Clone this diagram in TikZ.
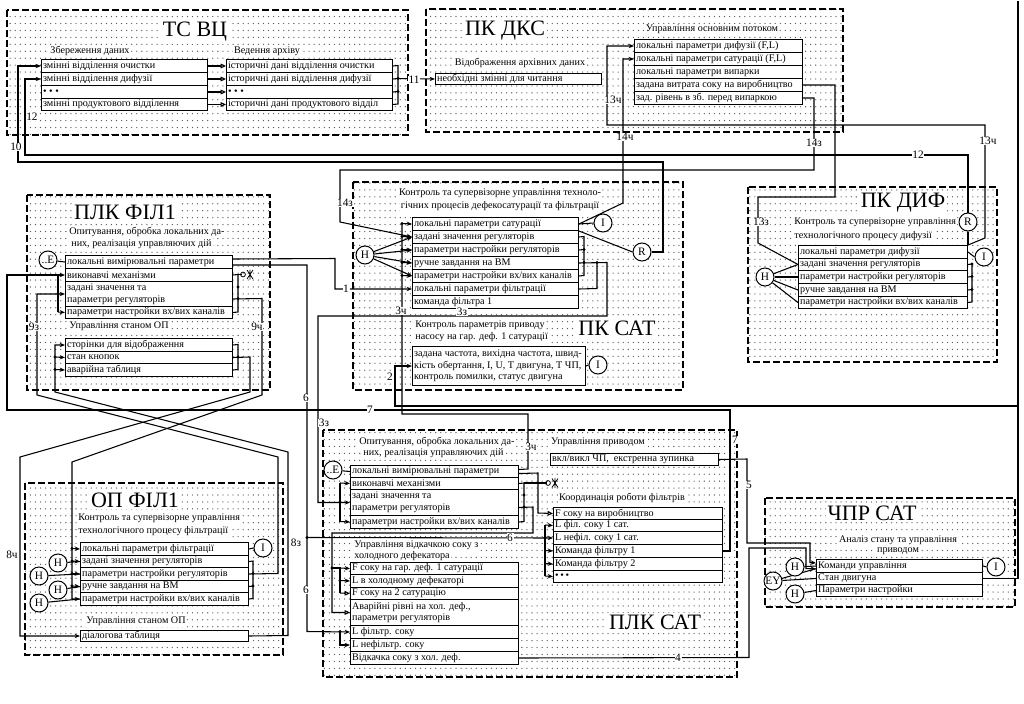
\documentclass[tikz,border=0pt]{standalone}
\usepackage{fontspec}
\setmainfont{Liberation Serif}
\usetikzlibrary{arrows.meta,patterns.meta}
\pgfdeclarelayer{bg}
\pgfdeclarelayer{wires}
\pgfsetlayers{bg,wires,main}
\newcommand\rowfont{\fontsize{7.6}{8.7}\selectfont}
\tikzdeclarepattern{
  name=sdots,
  type=colored,
  bounding box={(-0.6pt,-0.6pt) and (0.6pt,0.6pt)},
  tile size={(3.8pt,5.2pt)},
  code={\fill[black!65] (0pt,0pt) circle [radius=0.5pt];}
}
\newcommand\rw[6]{%
  \pgfmathsetmacro\rwW{(#4-#2)*0.75}%
  \pgfmathsetmacro\rwH{(#5-#3)*0.75}%
  \node[rowst, minimum width=\rwW pt, minimum height=\rwH pt, anchor=north west] (#1) at (#2,#3) {};%
  \node[rowtx, anchor=west] (#1t) at (#1.west) {#6};}
\newcommand\jd[2]{\fill (#1,#2) circle (1.2pt);}
\newcommand\actsym[2]{\draw[line width=0.6pt] (#1,#2) circle (1.8pt);
  \draw[line width=0.6pt] (#1+4,#2-4.5) -- (#1+10,#2+4.5) (#1+4,#2+4.5) -- (#1+10,#2-4.5) (#1+7,#2-5) -- (#1+7,#2+5);}
\begin{document}
\begin{tikzpicture}[x=0.75pt,y=-0.75pt,
  grp/.style={draw, line width=1pt, dash pattern=on 5pt off 2.5pt, pattern=sdots},
  rowst/.style={draw, fill=white, line width=0.75pt, inner sep=0pt},
  rowtx/.style={font=\rowfont, inner xsep=1.4pt, inner ysep=0pt, align=left},
  ttl/.style={font=\fontsize{16.5}{16.5}\selectfont, fill=white, inner sep=1.5pt},
  txt/.style={font=\rowfont, fill=white, inner sep=0.8pt},
  num/.style={font=\fontsize{8.5}{9}\selectfont, fill=white, inner sep=0.5pt},
  circ/.style={draw, circle, fill=white, line width=0.75pt, minimum size=13.5pt, inner sep=0pt, font=\fontsize{8.5}{9}\selectfont},
  ln/.style={line width=0.8pt},
  ar/.style={line width=0.8pt, -{Stealth[length=4pt,width=3.2pt]}},
  oar/.style={line width=0.8pt, -{Triangle[open,length=4pt,width=3.5pt]}}]
\useasboundingbox (0,0) rectangle (1024,703);
\begin{pgfonlayer}{bg}
\fill[white] (0,0) rectangle (1024,703);
\path[grp] (7,10) rectangle (408,135);
\path[grp] (426,9) rectangle (843,132);
\path[grp] (27,195) rectangle (270,390);
\path[grp] (353,182) rectangle (683,390);
\path[grp] (748,187) rectangle (997,362);
\path[grp] (25,483) rectangle (283,655);
\path[grp] (323,430) rectangle (737,677);
\path[grp] (765,498) rectangle (1015,607);
\end{pgfonlayer}

% ---------- TC VC
\node[ttl] (tTS) at (195,32) {ТС ВЦ};
\node[txt] (tZb) at (90,51) {Збереження даних};
\node[txt] (tVa) at (267,51) {Ведення архіву};
\rw{ts1}{41}{59}{207}{72}{змінні відділення очистки}
\rw{ts2}{41}{72}{207}{85}{змінні відділення дифузії}
\rw{ts3}{41}{85}{207}{98}{\textbullet\ \textbullet\ \textbullet}
\rw{ts4}{41}{98}{207}{110}{змінні продуктового відділення}
\rw{ta1}{226}{59}{392}{72}{історичні дані відділення очистки}
\rw{ta2}{226}{72}{392}{85}{історичні дані відділення дифузії}
\rw{ta3}{226}{85}{392}{98}{\textbullet\ \textbullet\ \textbullet}
\rw{ta4}{226}{98}{392}{110}{історичні дані продуктового відділ}

% ---------- PK DKS
\node[ttl] (tDKS) at (505,31) {ПК ДКС};
\node[txt] (tUo) at (712,29) {Управління основним потоком};
\node[txt] (tVad) at (520,63) {Відображення архівних даних};
\rw{dkn}{435}{73}{601}{84}{необхідні змінні для читання}
\rw{dk1}{634}{39}{802}{52}{локальні параметри дифузії (F,L)}
\rw{dk2}{634}{52}{802}{65}{локальні параметри сатурації (F,L)}
\rw{dk3}{634}{65}{802}{78}{локальні параметри випарки}
\rw{dk4}{634}{78}{802}{91}{задана витрата соку на виробництво}
\rw{dk5}{634}{91}{802}{104}{зад. рівень в зб. перед випаркою}

% ---------- PLK FIL1
\node[ttl] (tPF) at (125,212) {ПЛК ФІЛ1};
\node[txt, anchor=west] (tPF1) at (68,232) {Опитування, обробка локальних да-};
\node[txt, anchor=west] (tPF2) at (70,244) {них, реалізація управляючих дій};
\node[circ] (Ef) at (48,260) {..E};
\rw{pf1}{65}{255}{232}{268}{локальні вимірювальні параметри}
\rw{pf2}{65}{268}{232}{281}{виконавчі механізми}
\rw{pf3}{65}{281}{232}{306}{задані значення та\\параметри регуляторів}
\rw{pf4}{65}{306}{232}{318}{параметри настройки вх/вих каналів}
\node[txt, anchor=west] (tPF3) at (68,326) {Управління станом ОП};
\rw{pg1}{65}{338}{232}{351}{сторінки для відображення}
\rw{pg2}{65}{351}{232}{363}{стан кнопок}
\rw{pg3}{65}{363}{232}{376}{аварійна таблиця}
\actsym{243}{274.5}

% ---------- PK SAT
\node[txt] (tPS1) at (500,193) {Контроль та супервізорне управління техноло-};
\node[txt] (tPS2) at (500,206) {гічних процесів дефекосатурації та фільтрації};
\rw{ps1}{412}{217}{578}{230}{локальні параметри сатурації}
\rw{ps2}{412}{230}{578}{243}{задані значення регуляторів}
\rw{ps3}{412}{243}{578}{256}{параметри настройки регуляторів}
\rw{ps4}{412}{256}{578}{269}{ручне завдання на ВМ}
\rw{ps5}{412}{269}{578}{282}{параметри настройки вх/вих каналів}
\rw{ps6}{412}{282}{578}{295}{локальні параметри фільтрації}
\rw{ps7}{412}{295}{578}{308}{команда фільтра 1}
\node[circ] (Hs) at (365,255) {H};
\node[circ] (Is) at (603,223) {I};
\node[circ] (Rs) at (642,252) {R};
\node[ttl] (tPS) at (617,328) {ПК САТ};
\node[txt, anchor=west] (tPS3) at (414,325) {Контроль параметрів приводу};
\node[txt, anchor=west] (tPS4) at (414,337) {насосу на гар. деф. 1 сатурації};
\rw{pt}{412}{346}{585}{385}{задана частота, вихідна частота, швид-\\кість обертання, I, U, T двигуна, T ЧП,\\контроль помилки, статус двигуна}
\node[circ] (Ip) at (598,365) {I};

% ---------- PK DIF
\node[ttl] (tPD) at (903,203) {ПК ДИФ};
\node[txt, anchor=west] (tPD1) at (793,222) {Контроль та супервізорне управління};
\node[txt, anchor=west] (tPD2) at (793,236) {технологічного процесу дифузії};
\rw{pd1}{798}{245}{967}{258}{локальні параметри дифузії}
\rw{pd2}{798}{258}{967}{270}{задані значення регуляторів}
\rw{pd3}{798}{270}{967}{283}{параметри настройки регуляторів}
\rw{pd4}{798}{283}{967}{296}{ручне завдання на ВМ}
\rw{pd5}{798}{296}{967}{308}{параметри настройки вх/вих каналів}
\node[circ] (Rd) at (968,222) {R};
\node[circ] (Id) at (984,257) {I};
\node[circ] (Hd) at (765,277) {H};

% ---------- OP FIL1
\node[ttl] (tOP) at (135,500) {ОП ФІЛ1};
\node[txt, anchor=west] (tOP1) at (77,518) {Контроль та супервізорне управління};
\node[txt, anchor=west] (tOP2) at (77,531) {технологічного процесу фільтрації};
\rw{po1}{80}{542}{248}{555}{локальні параметри фільтрації}
\rw{po2}{80}{555}{248}{567}{задані значення регуляторів}
\rw{po3}{80}{567}{248}{580}{параметри настройки регуляторів}
\rw{po4}{80}{580}{248}{592}{ручне завдання на ВМ}
\rw{po5}{80}{592}{248}{605}{параметри настройки вх/вих каналів}
\node[circ] (Io) at (263,548) {I};
\node[circ] (Ho1) at (58,563) {H};
\node[circ] (Ho2) at (39,576) {H};
\node[circ] (Ho3) at (58,590) {H};
\node[circ] (Ho4) at (39,603) {H};
\node[txt, anchor=west] (tOP3) at (85,621) {Управління станом ОП};
\rw{pdl}{80}{630}{248}{641}{діалогова таблиця}

% ---------- PLK SAT
\node[txt, anchor=west] (tPA1) at (358,442) {Опитування, обробка локальних да-};
\node[txt, anchor=west] (tPA2) at (362,453) {них, реалізація управляючих дій};
\node[circ] (Ea) at (333,470) {..E};
\rw{pa1}{350}{465}{518}{477}{локальні вимірювальні параметри}
\rw{pa2}{350}{477}{518}{489}{виконавчі механізми}
\rw{pa3}{350}{489}{518}{515}{задані значення та\\параметри регуляторів}
\rw{pa4}{350}{515}{518}{528}{параметри настройки вх/вих каналів}
\actsym{548}{483}
\node[txt] (tPA3) at (598,442) {Управління приводом};
\rw{pu}{550}{453}{718}{465}{вкл/викл ЧП,\ \ екстренна зупинка}
\node[txt] (tPA4) at (622,498) {Координація роботи фільтрів};
\rw{pb1}{553}{507}{722}{519}{F соку на виробництво}
\rw{pb2}{553}{519}{722}{531}{L філ. соку 1 сат.}
\rw{pb3}{553}{531}{722}{544}{L нефіл. соку 1 сат.}
\rw{pb4}{553}{544}{722}{557}{Команда фільтру 1}
\rw{pb5}{553}{557}{722}{570}{Команда фільтру 2}
\rw{pb6}{553}{570}{722}{582}{\textbullet\,\textbullet\,\textbullet}
\node[txt, anchor=west] (tPA5) at (353,545) {Управління відкачкою соку з};
\node[txt, anchor=west] (tPA6) at (353,556) {холодного дефекатора};
\rw{pc1}{350}{562}{518}{574}{F соку на гар. деф. 1 сатурації}
\rw{pc2}{350}{574}{518}{587}{L в холодному дефекаторі}
\rw{pc3}{350}{587}{518}{599}{F соку на 2 сатурацію}
\rw{pc4}{350}{599}{518}{625}{Аварійні рівні на хол. деф.,\\параметри регуляторів}
\rw{pc5}{350}{625}{518}{638}{L фільтр. соку}
\rw{pc6}{350}{638}{518}{651}{L нефільтр. соку}
\rw{pc7}{350}{651}{518}{664}{Відкачка соку з хол. деф.}
\node[ttl] (tPA) at (655,622) {ПЛК САТ};

% ---------- CHPR SAT
\node[ttl] (tCS) at (872,513) {ЧПР САТ};
\node[txt] (tCS1) at (898,540) {Аналіз стану та управління};
\node[txt] (tCS2) at (898,551) {приводом};
\rw{cs1}{816}{559}{982}{572}{Команди управління}
\rw{cs2}{816}{572}{982}{584}{Стан двигуна}
\rw{cs3}{816}{584}{982}{596}{Параметри настройки}
\node[circ] (Hc1) at (795,567) {H};
\node[circ] (Ey) at (773,581) {EY};
\node[circ] (Hc2) at (795,594) {H};
\node[circ] (Ic) at (996,567) {I};

% ---------- connector labels
\node[num] (n11) at (414,80) {11};
\node[num] (n12a) at (918,155) {12};
\node[num] (n12b) at (32,117) {12};
\node[num] (n10) at (16,147) {10};
\node[num] (n13a) at (613,100) {13ч};
\node[num] (n13b) at (988,141) {13ч};
\node[num] (n14a) at (625,137) {14ч};
\node[num] (n14b) at (814,143) {14з};
\node[num] (n14c) at (345,203) {14з};
\node[num] (n13c) at (761,222) {13з};
\node[num] (n1) at (346,288.5) {1};
\node[num] (n3a) at (401,311) {3ч};
\node[num] (n3b) at (531,447) {3ч};
\node[num] (n3c) at (462,312) {3з};
\node[num] (n3d) at (324,423) {3з};
\node[num] (n2) at (390,377) {2};
\node[num] (n7a) at (370,410) {7};
\node[num] (n7b) at (735,440) {7};
\node[num] (n6a) at (306,398) {6};
\node[num] (n6b) at (510,537.5) {6};
\node[num] (n6c) at (306,590) {6};
\node[num] (n9a) at (34,327) {9з};
\node[num] (n9b) at (257,327) {9ч};
\node[num] (n8a) at (12,555) {8ч};
\node[num] (n8b) at (296,543) {8з};
\node[num] (n5) at (749,485) {5};
\node[num] (n4) at (678,657.5) {4};

\begin{pgfonlayer}{wires}
% TC VC
\foreach \i in {1,...,4}{\draw[oar] (ts\i.east) -- (ta\i.west);}
\draw[ln] (ta1.east) -- (398,65.5) -- (398,104) -- (ta4.east);
\draw[ln] (ta2.east) -- (398,78.5) (ta3.east) -- (398,91.5);
\jd{398}{78.5}\jd{398}{91.5}
\draw[ar] (398,78.5) -- (dkn.west);
% 12 and 10
\draw[ar] (Rd.north) |- (25,155) |- (ts2.west);
\draw[ar] (Rs.east) -- (663,252) -- (663,162) -- (18,162) |- (ts1.west);
% 13ch, 14ch, 14z, 13z
\draw[ar] (pd1.north east) -- (985,238) -- (985,125) -- (607,125) |- (dk1.west);
\draw[ar] (ps1.east) -- (623,203) |- (dk2.west);
\draw[ar] (dk5.east) -| (814,170) -- (340,170) -- (340,222) -- (ps2.west);
\draw[ln] (dk4.east) -| (835,197) -- (758,197) -- (758,243) -- (pd2.west);
% PK SAT
\foreach \i in {2,...,5}{\draw[ar] (Hs) -- (ps\i.west);}
\draw[ln] (402,223.5) -- (402,414) -- (528,414) -- (528,469) -- ([yshift=1.5pt]pa1.east);
\foreach \i/\y in {1/223.5,2/236.5,3/249.5,4/262.5,5/275.5}{\draw[ar] (402,\y) -- (ps\i.west); \jd{402}{\y}}
\draw[ln] (ps1.east) -- (Is.west);
\draw[ln] (ps1.south east) -- (Rs.west);
\draw[ln] (ps2.east) -- (584,236.5) -- (584,275.5) -- (ps5.east);
\draw[ln] (ps3.east) -- (584,249.5);
\jd{584}{249.5}\jd{584}{262.5}
\draw[ar] (ps4.east) -- (607,262.5) -- (607,316) -- (318,316) |- (pa3.west);
\draw[ln] (ps6.east) -- (597,288.5) -- (597,262.5); \jd{597}{262.5}
\draw[ar] ([yshift=2.25pt]pf1.east) -- (335,258.5) |- (ps6.west);
\draw[ln] (pt.east) -- (Ip.west);
% 2
\draw[ar] (cs2.east) -| (1018,406) -- (395,406) |- (pt.west);
\draw[ln] (1018,406) -- (1018,1);
% 7
\draw[ar] (pb4.east) -| (730,410) -- (7,410) |- (pf2.west);
% 6
\draw[ar] ([yshift=-2.25pt]pf1.east) -| (307,631.5) -- (pc5.west);
\draw[ar] (307,537.5) -- (pb3.west); \jd{307}{537.5}
\draw[ar] (340,631.5) |- (pc6.west); \jd{340}{631.5}
% PLK FIL1
\draw[ln] (Ef) -- (pf1.west);
\draw[ln] (58,274.5) -- (58,312);
\draw[ar] (58,312) -- (pf4.west);
\jd{58}{293.5}
\draw[ln] (pf2.east) -- (238,274.5) -- (238,312) -- (pf4.east);
\jd{238}{287}\jd{238}{298.5}
\draw[ln] (238,274.5) -- (241.6,274.5);
% 9z, 9ch, 8ch, 8z
\draw[ar] (po3.east) -- (278,573.5) -- (278,457) -- (37,395) |- (pf3.west);
\draw[ar] ([yshift=-3.75pt]pf3.east) -- (262,298.5) -- (262,395) -- (72,462) |- (po5.west);
\foreach \i/\y in {1/548.5,2/561,3/573.5,4/586}{\draw[ar] (72,\y) -- (po\i.west); \jd{72}{\y}}
\draw[ln] (pg1.east) -- (238,344.5) -- (238,369.5) -- (pg3.east);
\draw[ar] (pg2.east) -- (250,357) -- (250,392) -- (20,457) |- (pdl.west);
\jd{238}{357}
\draw[ar] (pdl.east) -- (288,635.5) -- (288,452) -- (55,392) |- (pg1.west);
\draw[ar] (55,357) -- (pg2.west);
\draw[ar] (55,369.5) -- (pg3.west);
\jd{55}{357}\jd{55}{369.5}
% OP FIL1
\draw[ln] (po1.east) -- (Io.west);
\draw[ln] (po2.east) -- (253,561) -- (253,598.5) -- (po5.east);
\draw[ln] (po4.east) -- (253,586);
\jd{253}{573.5}\jd{253}{586}
\draw[ln] (Ho1) -- (po2.west);
\draw[ln] (Ho2) -- (po3.west);
\draw[ln] (Ho3) -- (po4.west);
\draw[ln] (Ho4) -- (po5.west);
% PK DIF
\foreach \i in {2,...,5}{\draw[ln] (Hd) -- (pd\i.west);}
\draw[ln] (pd2.east) -- (972,264) -- (972,302) -- (pd5.east);
\draw[ln] (pd3.east) -- (972,276.5) (pd4.east) -- (972,289.5);
\jd{972}{264}\jd{972}{276.5}\jd{972}{289.5}
\draw[ln] (Rd.south) -- (pd1.north east);
\draw[ln] (pd1.east) -- (Id.west);
% CHPR SAT
\draw[ln] (Hc1) -- (cs1.west);
\draw[ln] (Ey) -- (cs2.west);
\draw[ln] (Ey) -- ([yshift=-2pt]cs1.west);
\draw[ln] (Hc2) -- (cs3.west);
\draw[ln] (cs1.east) -- (Ic.west);
\draw[ar] (pu.east) -- (747,459) -- (747,543) -- (810,543) -- (810,562.5) -- ([yshift=2.25pt]cs1.west);
\draw[ar] (pc7.east) -- (749,657.5) -- (749,548) -- (806,548) -- (806,568.5) -- ([yshift=-2.25pt]cs1.west);
% PLK SAT internal
\draw[ln] (Ea) -- (pa1.west);
\draw[ln] (340,483) -- (340,521.5);
\draw[ar] (340,483) -- (pa2.west);
\draw[ar] (340,521.5) -- (pa4.west);
\jd{340}{502}
\draw[oar] ([yshift=-1.5pt]pa1.east) -- (538,473) -- (538,513) -- (pb1.west);
\draw[ln] (pa2.east) -- (524,483) -- (524,521.5) -- (pa4.east);
\jd{524}{495}\jd{524}{507}
\draw[ln] (524,483) -- (546.6,483);
\draw[oar] ([yshift=-3.75pt]pa3.east) -- (533,507) -- (533,533) -- (332,533) |- (pc4.west);
\draw[ln] (332,568) -- (340,568) -- (340,593);
\jd{332}{568}\jd{340}{580.5}
\draw[ar] (340,568) -- (pc1.west);
\draw[ar] (340,580.5) -- (pc2.west);
\draw[oar] (340,593) -- (pc3.west);
\draw[ln] (545,525) -- (545,576);
\foreach \i/\y in {2/525,4/550.5,5/563.5,6/576}{\draw[ar] (545,\y) -- (pb\i.west);}
\jd{545}{537.5}
\end{pgfonlayer}
\end{tikzpicture}
\end{document}
